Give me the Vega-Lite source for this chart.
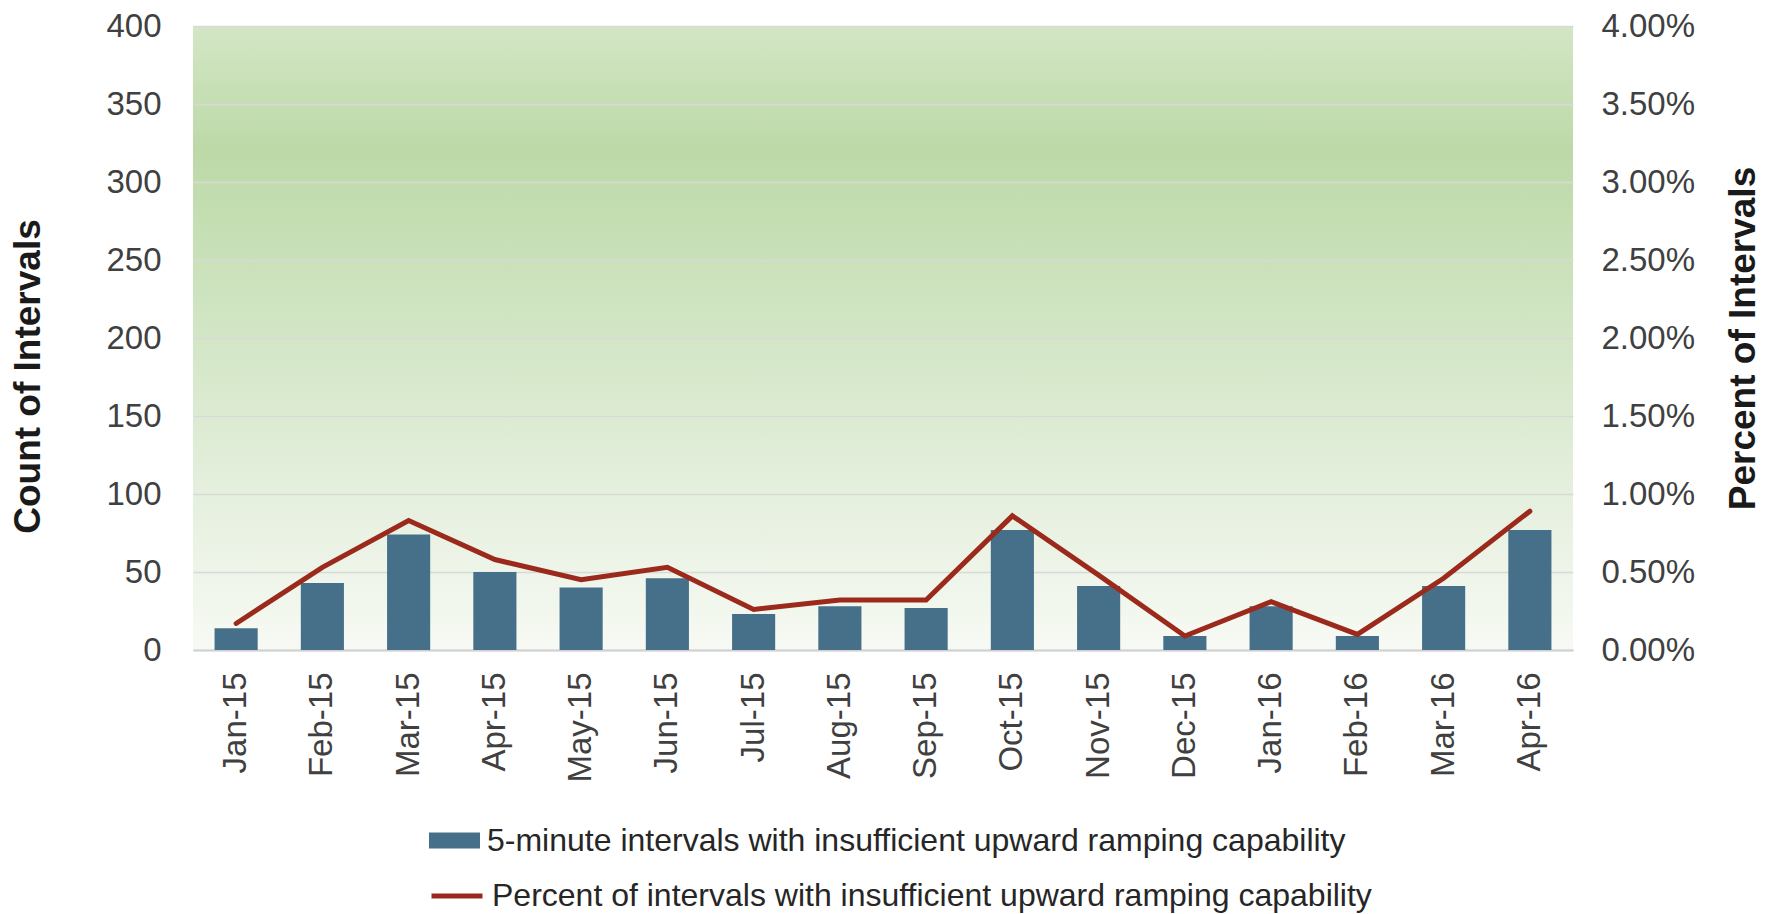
{
  "$schema": "https://vega.github.io/schema/vega-lite/v6.json",
  "width": 1380,
  "height": 624,
  "autosize": {"type": "none"},
  "padding": {"left": 193, "top": 26, "right": 208, "bottom": 264},
  "background": "white",
  "view": {
    "stroke": null,
    "fill": {
      "gradient": "linear",
      "x1": 0, "y1": 0, "x2": 0, "y2": 1,
      "stops": [
        {"offset": 0, "color": "#d3e6c5"},
        {"offset": 0.2, "color": "#bcd9a7"},
        {"offset": 0.45, "color": "#cfe4c1"},
        {"offset": 0.72, "color": "#e3eedb"},
        {"offset": 1, "color": "#f7faf4"}
      ]
    }
  },
  "config": {
    "font": "Liberation Sans",
    "axis": {
      "labelFont": "Liberation Sans",
      "labelFontSize": 33,
      "labelColor": "#404040",
      "titleFont": "Liberation Sans",
      "titleFontSize": 37,
      "titleFontWeight": "bold",
      "titleColor": "#1a1a1a",
      "ticks": false
    },
    "legend": {
      "labelFont": "Liberation Sans",
      "labelFontSize": 32,
      "labelColor": "#262626",
      "padding": 0,
      "labelLimit": 0
    }
  },
  "data": {
    "values": [
      {"month": "Jan-15", "count": 14, "pct": 0.0017},
      {"month": "Feb-15", "count": 43, "pct": 0.0053},
      {"month": "Mar-15", "count": 74, "pct": 0.0083},
      {"month": "Apr-15", "count": 50, "pct": 0.0058},
      {"month": "May-15", "count": 40, "pct": 0.0045},
      {"month": "Jun-15", "count": 46, "pct": 0.0053},
      {"month": "Jul-15", "count": 23, "pct": 0.0026},
      {"month": "Aug-15", "count": 28, "pct": 0.0032},
      {"month": "Sep-15", "count": 27, "pct": 0.0032},
      {"month": "Oct-15", "count": 77, "pct": 0.0086},
      {"month": "Nov-15", "count": 41, "pct": 0.0048},
      {"month": "Dec-15", "count": 9, "pct": 0.0009},
      {"month": "Jan-16", "count": 28, "pct": 0.0031},
      {"month": "Feb-16", "count": 9, "pct": 0.001},
      {"month": "Mar-16", "count": 41, "pct": 0.0046},
      {"month": "Apr-16", "count": 77, "pct": 0.0089}
    ]
  },
  "layer": [
    {
      "mark": {"type": "bar", "color": "#46708a"},
      "encoding": {
        "x": {
          "field": "month", "type": "ordinal", "sort": null,
          "scale": {"paddingInner": 0.5, "paddingOuter": 0.25},
          "axis": {
            "title": null,
            "labelAngle": 270,
            "labelPadding": 22,
            "domainColor": "#d0d0d0",
            "domainWidth": 2,
            "grid": false
          }
        },
        "y": {
          "field": "count", "type": "quantitative",
          "scale": {"domain": [0, 400]},
          "axis": {
            "title": "Count of Intervals",
            "values": [0, 50, 100, 150, 200, 250, 300, 350, 400],
            "domain": false,
            "grid": true,
            "gridColor": "#d9d9d9",
            "gridWidth": 1.3,
            "labelPadding": 32,
            "titlePadding": 58,
            "titleY": 350
          }
        },
        "color": {
          "datum": "5-minute intervals with insufficient upward ramping capability",
          "type": "nominal",
          "scale": {"range": ["#46708a"]},
          "legend": {
            "orient": "none",
            "legendX": 236,
            "legendY": 789,
            "title": null,
            "symbolType": "M-1,-0.31H1V0.31H-1Z",
            "symbolSize": 2601,
            "symbolStrokeWidth": 0,
            "labelOffset": 7
          }
        }
      }
    },
    {
      "mark": {"type": "line", "strokeWidth": 5, "strokeCap": "round"},
      "encoding": {
        "x": {"field": "month", "type": "ordinal", "sort": null},
        "y": {
          "field": "pct", "type": "quantitative",
          "scale": {"domain": [0, 0.04]},
          "axis": {
            "orient": "right",
            "title": "Percent of Intervals",
            "format": ".2%",
            "values": [0, 0.005, 0.01, 0.015, 0.02, 0.025, 0.03, 0.035, 0.04],
            "domain": false,
            "grid": false,
            "labelPadding": 28,
            "titleAngle": 270,
            "titlePadding": 68
          }
        },
        "stroke": {
          "datum": "Percent of intervals with insufficient upward ramping capability",
          "type": "nominal",
          "scale": {"range": ["#9b2a1c"]},
          "legend": {
            "orient": "none",
            "legendX": 236,
            "legendY": 842,
            "title": null,
            "symbolType": "stroke",
            "symbolSize": 2601,
            "symbolStrokeWidth": 5,
            "labelOffset": 7
          }
        }
      }
    }
  ],
  "resolve": {"scale": {"y": "independent"}}
}
